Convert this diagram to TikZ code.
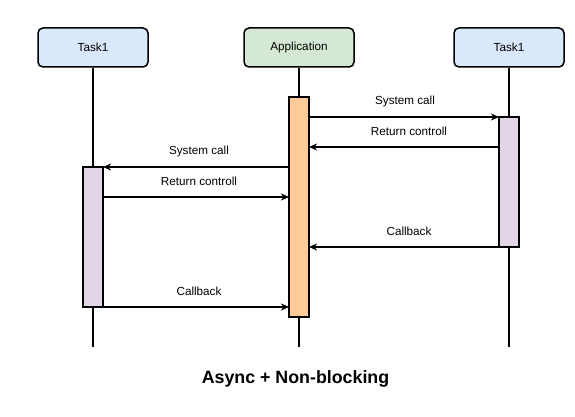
\documentclass[tikz,border=0pt]{standalone}
\usepackage{fontspec}
\setmainfont{Liberation Sans}
\usetikzlibrary{arrows.meta}
\definecolor{taskblue}{HTML}{DAE8FC}
\definecolor{appgreen}{HTML}{D5E8D4}
\definecolor{actorange}{HTML}{FFCC99}
\definecolor{actpurple}{HTML}{E1D5E7}
\begin{document}
\begin{tikzpicture}[x=1pt,y=-1pt,
  header/.style={draw=black, line width=1.5pt, rounded corners=5pt, minimum width=110pt, minimum height=39pt, inner sep=0pt, font=\fontsize{11.7}{13}\selectfont},
  lifeline/.style={draw=black, line width=1.5pt},
  actbox/.style={draw=black, line width=1.5pt},
  msg/.style={draw=black, line width=1.5pt, -{Stealth[length=8pt,width=7pt,inset=2.5pt]}},
  lbl/.style={font=\fontsize{11.7}{13}\selectfont, inner sep=0pt}
]
\useasboundingbox (0,0) rectangle (575,417);
% headers
\node[header, fill=taskblue] (t1) at (93,47.5) {Task1};
\node[header, fill=appgreen] (app) at (299,47.5) {Application};
\node[header, fill=taskblue] (t2) at (509,47.5) {Task1};
% lifeline ends
\coordinate (t1end) at (93,347);
\coordinate (append) at (299,347);
\coordinate (t2end) at (509,347);
\draw[lifeline] (t1.south) -- (t1end);
\draw[lifeline] (app.south) -- (append);
\draw[lifeline] (t2.south) -- (t2end);
% activations
\filldraw[actbox, fill=actorange] (289,97) rectangle (309,317);
\filldraw[actbox, fill=actpurple] (499,117) rectangle (519,247);
\filldraw[actbox, fill=actpurple] (83,167) rectangle (103,307);
% message anchors
\coordinate (a1) at (309,117); \coordinate (b1) at (499,117);
\coordinate (a2) at (499,147); \coordinate (b2) at (309,147);
\coordinate (a3) at (289,167); \coordinate (b3) at (103,167);
\coordinate (a4) at (103,197); \coordinate (b4) at (289,197);
\coordinate (a5) at (499,247); \coordinate (b5) at (309,247);
\coordinate (a6) at (103,307); \coordinate (b6) at (289,307);
\draw[msg] (a1) -- (b1);
\draw[msg] (a2) -- (b2);
\draw[msg] (a3) -- (b3);
\draw[msg] (a4) -- (b4);
\draw[msg] (a5) -- (b5);
\draw[msg] (a6) -- (b6);
% labels
\node[lbl] (l1) at (405,101.5) {System call};
\node[lbl] (l2) at (409,131.5) {Return controll};
\node[lbl] (l3) at (199,151.5) {System call};
\node[lbl] (l4) at (199,181.5) {Return controll};
\node[lbl] (l5) at (409,231.5) {Callback};
\node[lbl] (l6) at (199,291.5) {Callback};
% title
\node[font=\fontsize{17.8}{20}\bfseries\selectfont, inner sep=0pt] (title) at (295.5,378.5) {Async + Non-blocking};
\end{tikzpicture}
\end{document}
